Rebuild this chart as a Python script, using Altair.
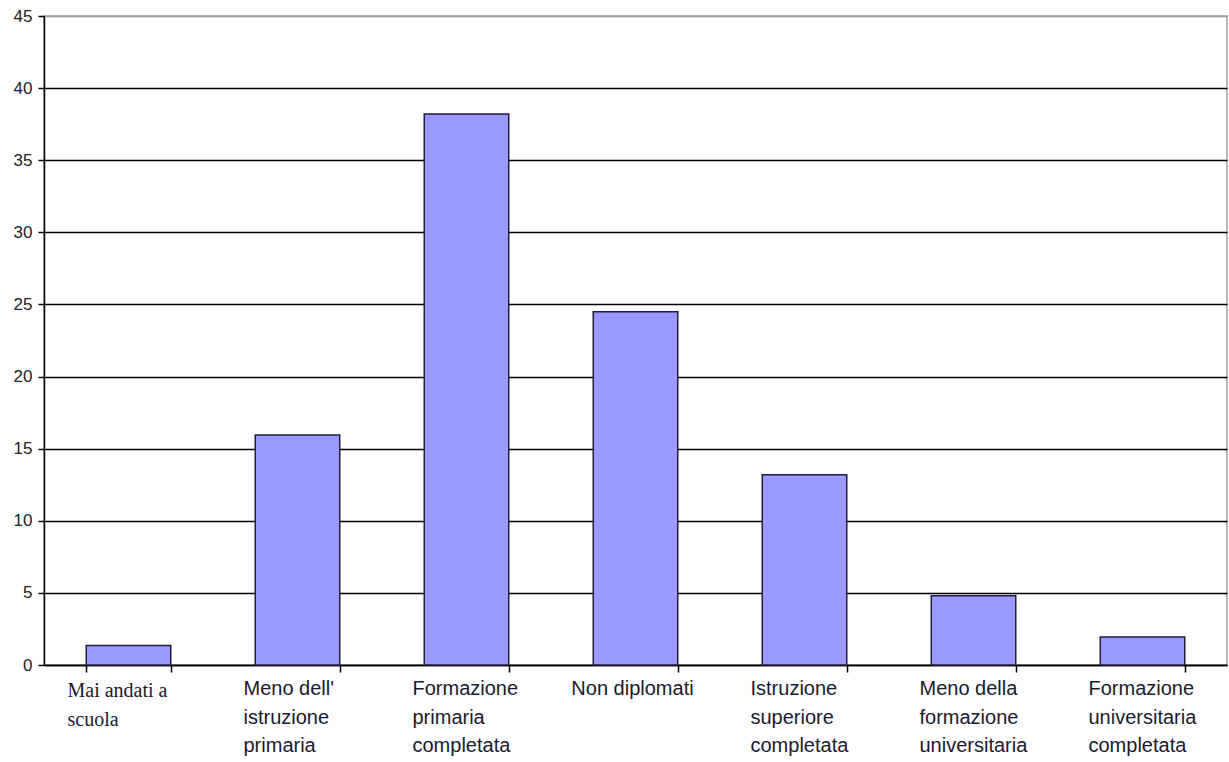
import altair as alt
import pandas as pd

# Education level categories and their percentages
categories = [
    "Mai andati a scuola",
    "Meno dell' istruzione primaria",
    "Formazione primaria completata",
    "Non diplomati",
    "Istruzione superiore completata",
    "Meno della formazione universitaria",
    "Formazione universitaria completata",
]
values = [1.35, 15.95, 38.2, 24.5, 13.2, 4.8, 1.95]

# Tick labels, one list of lines per category
tick_labels = [
    ["Mai andati a", "scuola"],
    ["Meno dell'", "istruzione", "primaria"],
    ["Formazione", "primaria", "completata"],
    ["Non diplomati"],
    ["Istruzione", "superiore", "completata"],
    ["Meno della", "formazione", "universitaria"],
    ["Formazione", "universitaria", "completata"],
]

df = pd.DataFrame({"categoria": categories, "valore": values, "etichetta": tick_labels})

SANS = "Liberation Sans"
SERIF = "Liberation Serif"

x_scale = alt.Scale(domain=categories, paddingInner=0.5, paddingOuter=0.25)

x_enc = alt.X(
    "categoria:N",
    sort=categories,
    scale=x_scale,
    axis=alt.Axis(
        title=None,
        labels=False,
        grid=False,
        tickBand="extent",
        tickSize=7,
        tickColor="black",
        tickWidth=1.5,
        domainColor="black",
        domainWidth=1.5,
    ),
)

bars = alt.Chart(df).mark_bar(
    color="#9999FF", stroke="#1e1e3c", strokeWidth=1.5
).encode(
    x=x_enc,
    y=alt.Y(
        "valore:Q",
        scale=alt.Scale(domain=[0, 45], nice=False),
        axis=alt.Axis(
            title=None,
            values=list(range(0, 50, 5)),
            grid=True,
            gridColor={"condition": {"test": "datum.value === 45", "value": "#a0a0a0"}, "value": "black"},
            gridWidth=1.5,
            tickSize=6,
            tickColor="black",
            tickWidth=1.5,
            domainColor="black",
            domainWidth=1.5,
            labelFont=SANS,
            labelFontSize=17,
            labelColor="#222222",
            labelPadding=6,
        ),
    ),
)

label_base = alt.Chart(df).encode(
    x=alt.X("categoria:N", sort=categories, scale=x_scale),
    y=alt.value(663),
    text=alt.Text("etichetta"),
)

# Multi-line sans-serif labels: lines left-aligned within a block under the band
labels_multi = label_base.transform_filter(
    "datum.categoria !== 'Mai andati a scuola' && length(datum.etichetta) > 1"
).mark_text(
    align="left", baseline="top", dx=-54, font=SANS, fontSize=20,
    lineHeight=28.5, color="#1a1a2e",
)

# Single-line labels are centered under the band
labels_single = label_base.transform_filter(
    "length(datum.etichetta) === 1"
).mark_text(
    align="center", baseline="top", dx=-3, font=SANS, fontSize=20,
    lineHeight=28.5, color="#1a1a2e",
)

labels_serif = label_base.transform_filter(
    "datum.categoria === 'Mai andati a scuola'"
).mark_text(
    align="left", baseline="top", dx=-61, dy=2, font=SERIF, fontSize=20,
    lineHeight=28.5, color="#1a1a2e",
)

chart = alt.layer(bars, labels_multi, labels_single, labels_serif).properties(
    width=1183,
    height=649,
    autosize=alt.AutoSizeParams(type="none"),
    padding={"left": 44, "top": 16, "right": 2, "bottom": 97},
    background="white",
).configure_view(stroke="#a0a0a0", strokeWidth=1.5)

chart.save("out.html", embed_options={"renderer": "svg", "actions": False})
